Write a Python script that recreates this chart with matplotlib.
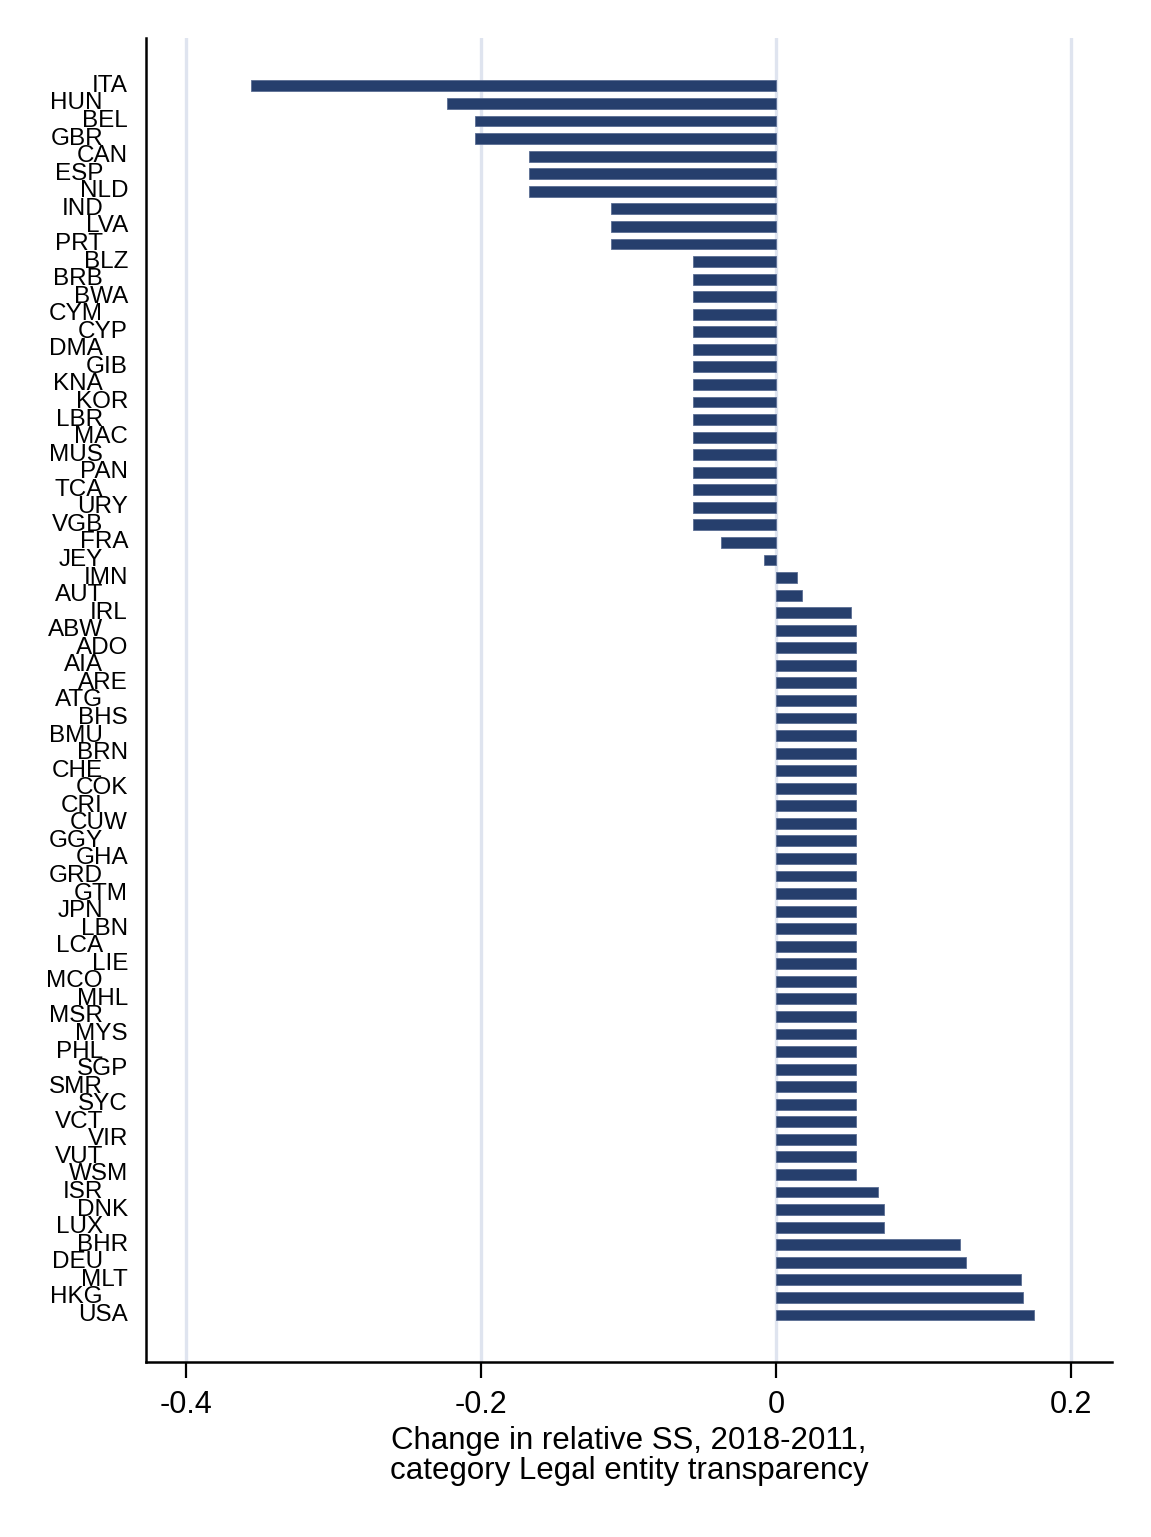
import matplotlib
matplotlib.use("Agg")
import matplotlib.pyplot as plt
import matplotlib.transforms as mtransforms

# Countries, top to bottom
countries = [
    "ITA", "HUN", "BEL", "GBR", "CAN", "ESP", "NLD", "IND", "LVA", "PRT",
    "BLZ", "BRB", "BWA", "CYM", "CYP", "DMA", "GIB", "KNA", "KOR", "LBR",
    "MAC", "MUS", "PAN", "TCA", "URY", "VGB", "FRA", "JEY", "IMN", "AUT",
    "IRL", "ABW", "ADO", "AIA", "ARE", "ATG", "BHS", "BMU", "BRN", "CHE",
    "COK", "CRI", "CUW", "GGY", "GHA", "GRD", "GTM", "JPN", "LBN", "LCA",
    "LIE", "MCO", "MHL", "MSR", "MYS", "PHL", "SGP", "SMR", "SYC", "VCT",
    "VIR", "VUT", "WSM", "ISR", "DNK", "LUX", "BHR", "DEU", "MLT", "HKG",
    "USA",
]

# Change in relative SS, 2018-2011
change = (
    [-0.356, -0.223, -0.204, -0.204, -0.1675, -0.1675, -0.1675,
     -0.112, -0.112, -0.112]
    + [-0.0563] * 16
    + [-0.0373, -0.0081, 0.0142, 0.0176, 0.0508]
    + [0.0542] * 32
    + [0.069, 0.0732, 0.0732, 0.1247, 0.1288, 0.166, 0.1675, 0.175]
)

xticks = [-0.4, -0.2, 0, 0.2]
xtick_labels = ["-0.4", "-0.2", "0", "0.2"]

plt.rcParams["font.family"] = ["Liberation Sans", "DejaVu Sans"]

fig = plt.figure(figsize=(11.51, 15.37), dpi=100)
ax = fig.add_axes([146 / 1151, 1 - 1362 / 1537, 966 / 1151, (1362 - 38) / 1537])

pos = list(range(len(countries)))
ax.barh(pos, change, height=0.62, color="#263f6d", edgecolor="#5a6d93",
        linewidth=0.6, zorder=3)

for x in xticks:
    ax.axvline(x, color="#dfe4ef", linewidth=2.4, zorder=1)

ax.set_ylim(len(countries) - 1 + 2.68, -2.73)
ax.set_xlim(-0.4271, 0.2278)

ax.set_yticks([])
ax.set_xticks(xticks)
ax.set_xticklabels(xtick_labels, fontsize=22)
ax.tick_params(axis="x", length=11.5, width=1.6, pad=9, color="black")

# Staggered country labels
tr = ax.get_yaxis_transform()
for i, name in enumerate(countries):
    offset = -18 if i % 2 == 0 else -43
    t = mtransforms.offset_copy(tr, fig=fig, x=offset, y=0, units="dots")
    ax.text(0, i, name, transform=t, ha="right", va="center", fontsize=17.5)

ax.set_xlabel("Change in relative SS, 2018-2011,\ncategory Legal entity transparency",
              fontsize=22.5, labelpad=4, linespacing=0.98)

for side in ["top", "right"]:
    ax.spines[side].set_visible(False)
for side in ["left", "bottom"]:
    ax.spines[side].set_linewidth(1.8)

fig.savefig("out.png", dpi=100, facecolor="white")
